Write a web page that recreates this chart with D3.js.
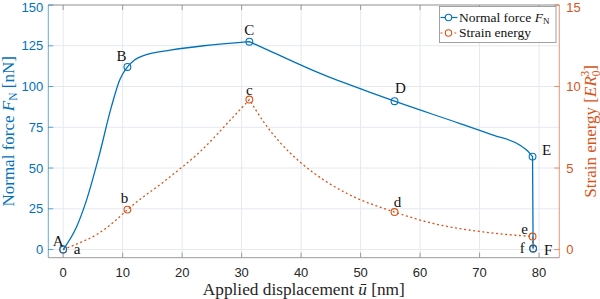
<!DOCTYPE html>
<html>
<head>
<meta charset="utf-8">
<script src="https://cdn.jsdelivr.net/npm/d3@7"></script>
<style>
  body { margin: 0; background: #fff; }
  svg { display: block; }
  .tick-label { font-family: "Liberation Sans", Arial, sans-serif; font-size: 13px; }
  .serif { font-family: "Liberation Serif", "DejaVu Serif", serif; }
</style>
</head>
<body>
<div id="chart"></div>
<script>
// normal force curve (nN) against applied displacement (nm)
const forceX = [0, 2.2, 3.9, 6.0, 8.1, 9.5, 10.8, 12.0, 14.3, 18, 23.6, 31.3, 34.8, 43.2, 51.6, 55.7, 66.7, 72.3, 76.8, 77.9, 78.9, 79.0];
const forceY = [0, 13.5, 30, 57, 87.5, 104, 112, 116.2, 119.9, 122.3, 125, 127.5, 121.7, 108, 96.4, 91, 77.3, 70.2, 64, 61, 57, 0.5];
// strain energy curve (E R0^3)
const energyX = [0, 2.5, 5.9, 8.7, 10.8, 17.4, 23.0, 28.6, 31.3, 33.7, 36.5, 40.1, 44.3, 47.7, 55.7, 62.2, 70.6, 78.9, 79.0];
const energyY = [0, 0.37, 0.98, 1.75, 2.45, 4.3, 6.0, 8.14, 9.2, 7.83, 6.55, 5.28, 4.15, 3.44, 2.3, 1.6, 1.08, 0.8, 0.08];

// marked points
const forceMarkX = [0, 10.8, 31.3, 55.7, 78.9, 79.0];
const forceMarkY = [0, 112, 127.5, 91, 57, 0.5];
const forceMarkLabels = ["A", "B", "C", "D", "E", "F"];
const energyMarkX = [0, 10.8, 31.3, 55.7, 78.9, 79.0];
const energyMarkY = [0, 2.45, 9.2, 2.3, 0.8, 0.08];
const energyMarkLabels = ["a", "b", "c", "d", "e", "f"];

const xTicks = [0, 10, 20, 30, 40, 50, 60, 70, 80];
const yLeftTicks = [0, 25, 50, 75, 100, 125, 150];
const yRightTicks = [0, 5, 10, 15];

const W = 600, H = 299;
const M = { left: 48.3, right: 600 - 559.3, top: 5, bottom: 299 - 257.7 };
const BLUE = "#0072BD", ORANGE = "#D95319";

// label nudges in px from each marker
const forceLabelDx = [-5, -6, 0, 6, 14, 15];
const forceLabelDy = [-4, -6, -7, -8, -2, 6];
const energyLabelDx = [14, -3, 0, 3, -8, -11];
const energyLabelDy = [4, -7, -5, -5, -3, 5];

// indices where the curves have a corner
const forceCorners = [11, 20];
const energyCorners = [8, 17];

const svg = d3.select("#chart").append("svg").attr("width", W).attr("height", H);

const x = d3.scaleLinear().domain([-2.5, 83.4]).range([M.left, W - M.right]);
const yL = d3.scaleLinear().domain([-5, 150]).range([H - M.bottom, M.top]);
const yR = d3.scaleLinear().domain([-0.5, 15]).range([H - M.bottom, M.top]);

const x0 = M.left, x1 = W - M.right, y0 = H - M.bottom, y1 = M.top;

// grid
const grid = svg.append("g").attr("stroke", "#e4e9ef").attr("stroke-width", 1);
grid.selectAll("line.v").data(xTicks).join("line").attr("class", "v")
  .attr("x1", (d) => x(d)).attr("x2", (d) => x(d)).attr("y1", y1).attr("y2", y0);
grid.selectAll("line.h").data(yLeftTicks).join("line").attr("class", "h")
  .attr("y1", (d) => yL(d)).attr("y2", (d) => yL(d)).attr("x1", x0).attr("x2", x1);

// axes frame
svg.append("line").attr("x1", x0).attr("x2", x1).attr("y1", y0).attr("y2", y0).attr("stroke", "#9a9a9a");
svg.append("line").attr("x1", x0).attr("x2", x1).attr("y1", y1).attr("y2", y1).attr("stroke", "#9a9a9a");
svg.append("line").attr("x1", x0).attr("x2", x0).attr("y1", y1).attr("y2", y0).attr("stroke", BLUE).attr("stroke-opacity", 0.6);
svg.append("line").attr("x1", x1).attr("x2", x1).attr("y1", y1).attr("y2", y0).attr("stroke", ORANGE).attr("stroke-opacity", 0.6);

// ticks (inward)
const tl = 5;
const xt = svg.append("g").attr("stroke", "#9a9a9a");
xt.selectAll("line.b").data(xTicks).join("line").attr("class", "b")
  .attr("x1", (d) => x(d)).attr("x2", (d) => x(d)).attr("y1", y0).attr("y2", y0 - tl);
xt.selectAll("line.t").data(xTicks).join("line").attr("class", "t")
  .attr("x1", (d) => x(d)).attr("x2", (d) => x(d)).attr("y1", y1).attr("y2", y1 + tl);
svg.append("g").attr("stroke", BLUE).attr("stroke-opacity", 0.6)
  .selectAll("line").data(yLeftTicks).join("line")
  .attr("x1", x0).attr("x2", x0 + tl).attr("y1", (d) => yL(d)).attr("y2", (d) => yL(d));
svg.append("g").attr("stroke", ORANGE).attr("stroke-opacity", 0.6)
  .selectAll("line").data(yRightTicks).join("line")
  .attr("x1", x1).attr("x2", x1 - tl).attr("y1", (d) => yR(d)).attr("y2", (d) => yR(d));

// tick labels
svg.append("g").selectAll("text").data(xTicks).join("text")
  .attr("class", "tick-label").attr("fill", "#262626")
  .attr("x", (d) => x(d)).attr("y", y0 + 19).attr("text-anchor", "middle").text((d) => d);
svg.append("g").selectAll("text").data(yLeftTicks).join("text")
  .attr("class", "tick-label").attr("fill", BLUE)
  .attr("x", x0 - 5).attr("y", (d) => Math.max(yL(d) + 4.7, 11.5)).attr("text-anchor", "end").text((d) => d);
svg.append("g").selectAll("text").data(yRightTicks).join("text")
  .attr("class", "tick-label").attr("fill", ORANGE)
  .attr("x", x1 + 7).attr("y", (d) => Math.max(yR(d) + 4.7, 11.5)).attr("text-anchor", "start").text((d) => d);

// axis titles
const xl = svg.append("text").attr("class", "serif").attr("font-size", 17.3).attr("fill", "#262626")
  .attr("x", (x0 + x1) / 2).attr("y", 295).attr("text-anchor", "middle");
xl.append("tspan").text("Applied displacement ");
xl.append("tspan").attr("font-style", "italic").text("ū");
xl.append("tspan").text(" [nm]");

const yl = svg.append("text").attr("class", "serif").attr("font-size", 17).attr("fill", BLUE)
  .attr("transform", `translate(14,${(y0 + y1) / 2}) rotate(-90)`).attr("text-anchor", "middle");
yl.append("tspan").text("Normal force ");
yl.append("tspan").attr("font-style", "italic").text("F");
yl.append("tspan").attr("font-size", 11.5).attr("dy", 3).text("N");
yl.append("tspan").attr("dy", -3).text(" [nN]");

const yr = svg.append("text").attr("class", "serif").attr("font-size", 17).attr("fill", ORANGE)
  .attr("transform", `translate(596,${(y0 + y1) / 2}) rotate(-90)`).attr("text-anchor", "middle");
yr.append("tspan").text("Strain energy [");
yr.append("tspan").attr("font-style", "italic").text("ER");
yr.append("tspan").attr("font-size", 11.5).attr("dy", 3.5).text("0");
yr.append("tspan").attr("font-size", 11.5).attr("dx", -6).attr("dy", -11).text("3");
yr.append("tspan").attr("dy", 7.5).text("]");

// curves, drawn in smooth pieces between corners
function pieces(xs, ys, corners) {
  const pts = xs.map((v, i) => ({ x: v, y: ys[i] }));
  const cuts = [0, ...corners, pts.length - 1];
  return d3.pairs(cuts).map(([a, b]) => pts.slice(a, b + 1));
}

const lineL = d3.line().x((d) => x(d.x)).y((d) => yL(d.y)).curve(d3.curveMonotoneX);
const lineR = d3.line().x((d) => x(d.x)).y((d) => yR(d.y)).curve(d3.curveMonotoneX);

svg.append("path")
  .attr("fill", "none").attr("stroke", ORANGE).attr("stroke-width", 1.3).attr("stroke-dasharray", "2 2.6")
  .attr("d", pieces(energyX, energyY, energyCorners).map((p, i) => (i ? lineR(p).replace(/^M[^LC]*/, "") : lineR(p))).join(""));
svg.append("path")
  .attr("fill", "none").attr("stroke", BLUE).attr("stroke-width", 1.3)
  .attr("d", pieces(forceX, forceY, forceCorners).map((p, i) => (i ? lineL(p).replace(/^M[^LC]*/, "") : lineL(p))).join(""));

// markers
svg.append("g").selectAll("circle").data(energyMarkX).join("circle")
  .attr("cx", (d) => x(d)).attr("cy", (d, i) => yR(energyMarkY[i])).attr("r", 3.4)
  .attr("fill", "none").attr("stroke", ORANGE).attr("stroke-width", 1.1);
svg.append("g").selectAll("circle").data(forceMarkX).join("circle")
  .attr("cx", (d) => x(d)).attr("cy", (d, i) => yL(forceMarkY[i])).attr("r", 3.4)
  .attr("fill", "none").attr("stroke", BLUE).attr("stroke-width", 1.1);

// point labels
svg.append("g").selectAll("text").data(forceMarkLabels).join("text")
  .attr("class", "serif").attr("font-size", 15).attr("fill", "#111").attr("text-anchor", "middle")
  .attr("x", (d, i) => x(forceMarkX[i]) + forceLabelDx[i])
  .attr("y", (d, i) => yL(forceMarkY[i]) + forceLabelDy[i]).text((d) => d);
svg.append("g").selectAll("text").data(energyMarkLabels).join("text")
  .attr("class", "serif").attr("font-size", 15).attr("fill", "#111").attr("text-anchor", "middle")
  .attr("x", (d, i) => x(energyMarkX[i]) + energyLabelDx[i])
  .attr("y", (d, i) => yR(energyMarkY[i]) + energyLabelDy[i]).text((d) => d);

// legend
const lg = svg.append("g");
lg.append("rect").attr("x", 439.5).attr("y", 6.5).attr("width", 116.5).attr("height", 36)
  .attr("fill", "#fff").attr("stroke", "#8a8a8a").attr("stroke-width", 0.8);
const rows = [
  { color: BLUE, dash: null, yy: 17.5 },
  { color: ORANGE, dash: "2 2.6", yy: 33 },
];
rows.forEach((r) => {
  lg.append("line").attr("x1", 440.5).attr("x2", 457.5).attr("y1", r.yy).attr("y2", r.yy)
    .attr("stroke", r.color).attr("stroke-width", 1.2).attr("stroke-dasharray", r.dash);
  lg.append("circle").attr("cx", 448.5).attr("cy", r.yy).attr("r", 3.2)
    .attr("fill", "#fff").attr("stroke", r.color).attr("stroke-width", 1.1);
});
const t1 = lg.append("text").attr("class", "serif").attr("font-size", 13.5).attr("fill", "#111")
  .attr("x", 459).attr("y", 21.8);
t1.append("tspan").text("Normal force ");
t1.append("tspan").attr("font-style", "italic").text("F");
t1.append("tspan").attr("font-size", 9).attr("dy", 2.5).text("N");
lg.append("text").attr("class", "serif").attr("font-size", 13.5).attr("fill", "#111")
  .attr("x", 459).attr("y", 37.3).text("Strain energy");
</script>
</body>
</html>
